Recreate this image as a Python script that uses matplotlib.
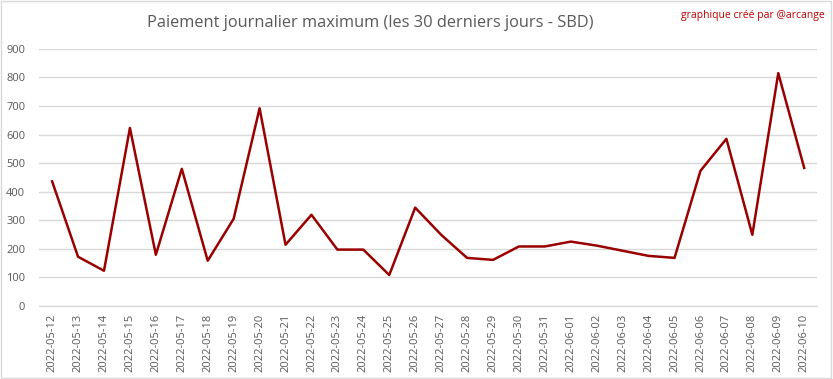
import matplotlib
matplotlib.use("Agg")
import matplotlib.pyplot as plt

dates = ["2022-05-12", "2022-05-13", "2022-05-14", "2022-05-15", "2022-05-16",
         "2022-05-17", "2022-05-18", "2022-05-19", "2022-05-20", "2022-05-21",
         "2022-05-22", "2022-05-23", "2022-05-24", "2022-05-25", "2022-05-26",
         "2022-05-27", "2022-05-28", "2022-05-29", "2022-05-30", "2022-05-31",
         "2022-06-01", "2022-06-02", "2022-06-03", "2022-06-04", "2022-06-05",
         "2022-06-06", "2022-06-07", "2022-06-08", "2022-06-09", "2022-06-10"]
payouts = [436, 172, 123, 623, 179, 480, 158, 305, 692, 214,
           319, 197, 197, 108, 344, 249, 168, 161, 208, 208,
           225, 211, 193, 175, 168, 473, 585, 249, 815, 483]
yticks = list(range(0, 1000, 100))

plt.rcParams["font.family"] = ["Open Sans", "DejaVu Sans"]

fig = plt.figure(figsize=(8.33, 3.79), dpi=100)
ax = fig.add_axes([0.047, 0.193, 0.934, 0.678])

x = list(range(len(dates)))
ax.plot(x, payouts, color="#990000", linewidth=1.8)

ax.set_xlim(-0.5, len(dates) - 0.5)
ax.set_ylim(0, 900)
ax.set_yticks(yticks)
ax.set_xticks(x)
ax.set_xticklabels(dates, rotation=90, fontsize=8, color="#595959")
ax.tick_params(axis="y", labelsize=8, labelcolor="#595959", length=0, pad=10)
ax.tick_params(axis="x", length=0, pad=6)
ax.grid(axis="y", color="#d9d9d9", linewidth=1)
ax.set_axisbelow(True)
for side in ["top", "right", "left"]:
    ax.spines[side].set_visible(False)
ax.spines["bottom"].set_color("#d9d9d9")

fig.text(0.445, 0.938, "Paiement journalier maximum (les 30 derniers jours - SBD)",
         ha="center", va="center", fontsize=11.8, color="#595959")
fig.text(0.99, 0.96, "graphique créé par @arcange", ha="right", va="center",
         fontsize=7.5, color="#c00000")

# light frame round the whole chart
fig.patches.append(plt.Rectangle((0.001, 0.002), 0.997, 0.995, transform=fig.transFigure,
                                 fill=False, edgecolor="#d9d9d9", linewidth=1))

fig.savefig("out.png", dpi=100)
